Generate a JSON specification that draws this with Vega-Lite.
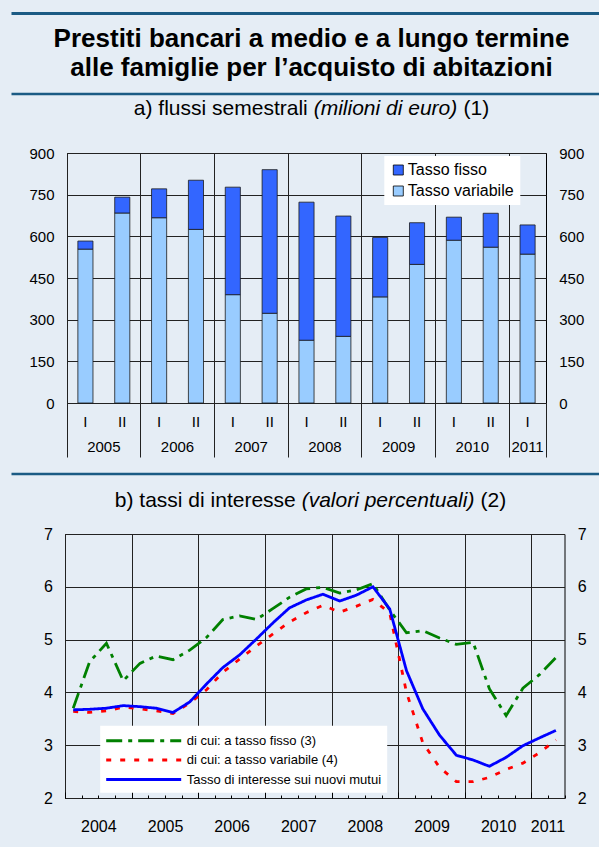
{
  "$schema": "https://vega.github.io/schema/vega-lite/v6.json",
  "background": "#e5edf5",
  "padding": {"left": 8, "top": 9, "right": 0, "bottom": 12},
  "spacing": 0,
  "columns": 1,
  "resolve": {"scale": {"color": "independent", "strokeDash": "independent", "x": "independent", "y": "independent"}, "legend": {"color": "independent", "strokeDash": "independent"}},
  "config": {
    "font": "Liberation Sans",
    "view": {"stroke": "#000", "strokeWidth": 1},
    "axis": {"labelColor": "#000", "labelFont": "Liberation Sans"},
    "legend": {"labelFont": "Liberation Sans", "labelColor": "#000", "labelLimit": 400},
    "title": {"font": "Liberation Sans", "color": "#000", "fontWeight": "normal"}
  },
  "concat": [
    {
      "width": 591, "height": 1,
      "data": {"values": [{}]},
      "mark": {"type": "point", "opacity": 0},
      "encoding": {"x": {"datum": 0, "type": "quantitative", "scale": {"domain": [0, 1]}, "axis": {"orient": "bottom", "title": null, "domain": true, "domainColor": "#1b5b84", "domainWidth": 3, "labels": false, "ticks": false, "grid": false}}},
      "view": {"stroke": null},
      "title": {"text": ["Prestiti bancari a medio e a lungo termine", "alle famiglie per l’acquisto di abitazioni"], "orient": "bottom", "anchor": "middle", "frame": "group", "baseline": "top", "offset": 10.3, "dx": 5, "fontSize": 26, "fontWeight": "bold", "lineHeight": 29.7}
    },
    {
      "width": 591, "height": 15.3,
      "data": {"values": [{}]},
      "mark": {"type": "point", "opacity": 0},
      "encoding": {"x": {"datum": 0, "type": "quantitative", "scale": {"domain": [0, 1]}, "axis": {"orient": "bottom", "offset": -3.8, "title": null, "domain": true, "domainColor": "#1b5b84", "domainWidth": 2.6, "labels": false, "ticks": false, "grid": false}}},
      "view": {"stroke": null}
    },
    {
      "spacing": 5.84,
      "hconcat": [
        {"width": 116.3, "height": 1, "data": {"values": []}, "mark": "point", "view": {"stroke": null}},
        {"width": 1, "height": 25.2, "data": {"values": []}, "mark": "point", "view": {"stroke": null},
         "title": {"text": "a) flussi semestrali", "anchor": "start", "frame": "group", "offset": 0, "fontSize": 21}},
        {"width": 1, "height": 25.2, "data": {"values": []}, "mark": "point", "view": {"stroke": null},
         "title": {"text": "(milioni di euro)", "anchor": "start", "frame": "group", "offset": 0, "fontSize": 21, "fontStyle": "italic"}},
        {"width": 1, "height": 25.2, "data": {"values": []}, "mark": "point", "view": {"stroke": null},
         "title": {"text": "(1)", "anchor": "start", "frame": "group", "offset": 0, "fontSize": 21}}
      ]
    },
    {
      "spacing": 0,
      "resolve": {"legend": {"color": "independent"}},
      "hconcat": [
        {"width": 1, "height": 1, "data": {"values": []}, "mark": "point", "view": {"stroke": null}},
        {
          "width": 479, "height": 250,
          "data": {"values": [
            {"periodo": "2005-I", "tipo": "Tasso variabile", "valore": 554}, {"periodo": "2005-I", "tipo": "Tasso fisso", "valore": 29},
            {"periodo": "2005-II", "tipo": "Tasso variabile", "valore": 684}, {"periodo": "2005-II", "tipo": "Tasso fisso", "valore": 57},
            {"periodo": "2006-I", "tipo": "Tasso variabile", "valore": 667}, {"periodo": "2006-I", "tipo": "Tasso fisso", "valore": 104},
            {"periodo": "2006-II", "tipo": "Tasso variabile", "valore": 625}, {"periodo": "2006-II", "tipo": "Tasso fisso", "valore": 177},
            {"periodo": "2007-I", "tipo": "Tasso variabile", "valore": 390}, {"periodo": "2007-I", "tipo": "Tasso fisso", "valore": 387},
            {"periodo": "2007-II", "tipo": "Tasso variabile", "valore": 323}, {"periodo": "2007-II", "tipo": "Tasso fisso", "valore": 517},
            {"periodo": "2008-I", "tipo": "Tasso variabile", "valore": 226}, {"periodo": "2008-I", "tipo": "Tasso fisso", "valore": 497},
            {"periodo": "2008-II", "tipo": "Tasso variabile", "valore": 240}, {"periodo": "2008-II", "tipo": "Tasso fisso", "valore": 433},
            {"periodo": "2009-I", "tipo": "Tasso variabile", "valore": 382}, {"periodo": "2009-I", "tipo": "Tasso fisso", "valore": 214},
            {"periodo": "2009-II", "tipo": "Tasso variabile", "valore": 499}, {"periodo": "2009-II", "tipo": "Tasso fisso", "valore": 150},
            {"periodo": "2010-I", "tipo": "Tasso variabile", "valore": 586}, {"periodo": "2010-I", "tipo": "Tasso fisso", "valore": 83},
            {"periodo": "2010-II", "tipo": "Tasso variabile", "valore": 561}, {"periodo": "2010-II", "tipo": "Tasso fisso", "valore": 122},
            {"periodo": "2011-I", "tipo": "Tasso variabile", "valore": 536}, {"periodo": "2011-I", "tipo": "Tasso fisso", "valore": 105}
          ]},
          "layer": [
            {
              "mark": {"type": "bar", "width": {"band": 0.41}, "stroke": "#1a1a1a", "strokeWidth": 0.8},
              "encoding": {
                "x": {"field": "periodo", "type": "ordinal",
                      "scale": {"domain": ["2005-I","2005-II","2006-I","2006-II","2007-I","2007-II","2008-I","2008-II","2009-I","2009-II","2010-I","2010-II","2011-I"], "paddingInner": 0, "paddingOuter": 0},
                      "axis": {"orient": "bottom", "title": null, "labelExpr": "split(datum.value, '-')[1]", "labelAngle": 0, "labelFontSize": 15, "labelPadding": -42.5, "labelOverlap": false, "ticks": true, "tickSize": 54, "tickColor": "#222", "bandPosition": 1, "tickOpacity": {"condition": {"test": "datum.value === '2011-I'", "value": 1}, "value": 0}, "grid": false, "domain": false}},
                "y": {"field": "valore", "type": "quantitative", "stack": "zero",
                      "scale": {"domain": [0, 900], "nice": false},
                      "axis": {"orient": "left", "title": null, "values": [0,150,300,450,600,750,900], "labelFontSize": 15, "labelPadding": 13, "ticks": false, "domain": false, "grid": true, "gridColor": "#222", "gridOpacity": 1, "minExtent": 54.2}},
                "color": {"field": "tipo", "type": "nominal",
                          "scale": {"domain": ["Tasso fisso", "Tasso variabile"], "range": ["#3366ff", "#99ccff"]},
                          "legend": {"title": null, "orient": "none", "legendX": 317.3, "legendY": 3, "fillColor": "#ffffff", "padding": 6, "symbolType": "square", "symbolSize": 100, "symbolStrokeColor": "#000", "symbolStrokeWidth": 0.8, "labelFontSize": 16, "labelOffset": 1.5, "rowPadding": 5}},
                "order": {"field": "tipo", "sort": "descending"}
              }
            },
            {
              "mark": {"type": "bar", "opacity": 0, "width": {"band": 0.41}},
              "encoding": {
                "x": {"field": "periodo", "type": "ordinal",
                      "scale": {"domain": ["2005-I","2005-II","2006-I","2006-II","2007-I","2007-II","2008-I","2008-II","2009-I","2009-II","2010-I","2010-II","2011-I"], "paddingInner": 0, "paddingOuter": 0},
                      "axis": {"orient": "bottom", "title": null, "values": ["2005-I","2006-I","2007-I","2008-I","2009-I","2010-I","2011-I"], "labelExpr": "slice(datum.value, 0, 4)", "labelAngle": 0, "labelFontSize": 15, "labelPadding": -17.6, "labelOverlap": false, "labelOffset": {"condition": {"test": "datum.value === '2011-I'", "value": 0}, "value": 18.42}, "ticks": true, "tickSize": 54, "tickColor": "#222", "bandPosition": 0, "grid": true, "gridColor": "#222", "gridOpacity": 1, "domain": false}},
                "y": {"field": "valore", "type": "quantitative", "stack": null,
                      "scale": {"domain": [0, 900], "nice": false},
                      "axis": {"orient": "right", "title": null, "values": [0,150,300,450,600,750,900], "labelFontSize": 15, "labelPadding": 12.7, "ticks": false, "domain": false, "grid": false}}
              }
            }
          ],
          "resolve": {"axis": {"x": "independent", "y": "independent"}}
        }
      ]
    },
    {
      "width": 591, "height": 32,
      "data": {"values": [{}]},
      "mark": {"type": "point", "opacity": 0},
      "encoding": {"x": {"datum": 0, "type": "quantitative", "scale": {"domain": [0, 1]}, "axis": {"orient": "bottom", "offset": -16.5, "title": null, "domain": true, "domainColor": "#1b5b84", "domainWidth": 2.6, "labels": false, "ticks": false, "grid": false}}},
      "view": {"stroke": null}
    },
    {
      "spacing": 5.84,
      "hconcat": [
        {"width": 97.9, "height": 1, "data": {"values": []}, "mark": "point", "view": {"stroke": null}},
        {"width": 1, "height": 13.5, "data": {"values": []}, "mark": "point", "view": {"stroke": null},
         "title": {"text": "b) tassi di interesse", "anchor": "start", "frame": "group", "offset": 0, "fontSize": 21}},
        {"width": 1, "height": 13.5, "data": {"values": []}, "mark": "point", "view": {"stroke": null},
         "title": {"text": "(valori percentuali)", "anchor": "start", "frame": "group", "offset": 0, "fontSize": 21, "fontStyle": "italic"}},
        {"width": 1, "height": 13.5, "data": {"values": []}, "mark": "point", "view": {"stroke": null},
         "title": {"text": "(2)", "anchor": "start", "frame": "group", "offset": 0, "fontSize": 21}}
      ]
    },
    {
      "spacing": 0,
      "resolve": {"legend": {"color": "independent", "strokeDash": "independent"}},
      "hconcat": [
        {"width": 1, "height": 1, "data": {"values": []}, "mark": "point", "view": {"stroke": null}},
        {
          "width": 499.5, "height": 264,
          "data": {"values": [
            {"data": "2004-02-15", "serie": "di cui: a tasso fisso (3)", "valore": 3.70},
            {"data": "2004-05-15", "serie": "di cui: a tasso fisso (3)", "valore": 4.58},
            {"data": "2004-08-15", "serie": "di cui: a tasso fisso (3)", "valore": 4.93},
            {"data": "2004-11-15", "serie": "di cui: a tasso fisso (3)", "valore": 4.22},
            {"data": "2005-02-15", "serie": "di cui: a tasso fisso (3)", "valore": 4.55},
            {"data": "2005-05-15", "serie": "di cui: a tasso fisso (3)", "valore": 4.69},
            {"data": "2005-08-15", "serie": "di cui: a tasso fisso (3)", "valore": 4.62},
            {"data": "2005-11-15", "serie": "di cui: a tasso fisso (3)", "valore": 4.80},
            {"data": "2006-02-15", "serie": "di cui: a tasso fisso (3)", "valore": 5.04},
            {"data": "2006-05-15", "serie": "di cui: a tasso fisso (3)", "valore": 5.38},
            {"data": "2006-08-15", "serie": "di cui: a tasso fisso (3)", "valore": 5.45},
            {"data": "2006-11-15", "serie": "di cui: a tasso fisso (3)", "valore": 5.38},
            {"data": "2007-02-15", "serie": "di cui: a tasso fisso (3)", "valore": 5.59},
            {"data": "2007-05-15", "serie": "di cui: a tasso fisso (3)", "valore": 5.80},
            {"data": "2007-08-15", "serie": "di cui: a tasso fisso (3)", "valore": 5.96},
            {"data": "2007-11-15", "serie": "di cui: a tasso fisso (3)", "valore": 5.99},
            {"data": "2008-02-15", "serie": "di cui: a tasso fisso (3)", "valore": 5.88},
            {"data": "2008-05-15", "serie": "di cui: a tasso fisso (3)", "valore": 5.94},
            {"data": "2008-08-15", "serie": "di cui: a tasso fisso (3)", "valore": 6.06},
            {"data": "2008-11-15", "serie": "di cui: a tasso fisso (3)", "valore": 5.56},
            {"data": "2009-02-15", "serie": "di cui: a tasso fisso (3)", "valore": 5.13},
            {"data": "2009-05-15", "serie": "di cui: a tasso fisso (3)", "valore": 5.17},
            {"data": "2009-08-15", "serie": "di cui: a tasso fisso (3)", "valore": 5.03},
            {"data": "2009-11-15", "serie": "di cui: a tasso fisso (3)", "valore": 4.91},
            {"data": "2010-02-15", "serie": "di cui: a tasso fisso (3)", "valore": 4.95},
            {"data": "2010-05-15", "serie": "di cui: a tasso fisso (3)", "valore": 4.07},
            {"data": "2010-08-15", "serie": "di cui: a tasso fisso (3)", "valore": 3.56},
            {"data": "2010-11-15", "serie": "di cui: a tasso fisso (3)", "valore": 4.08},
            {"data": "2011-02-15", "serie": "di cui: a tasso fisso (3)", "valore": 4.34},
            {"data": "2011-05-15", "serie": "di cui: a tasso fisso (3)", "valore": 4.66},
            {"data": "2004-02-15", "serie": "di cui: a tasso variabile (4)", "valore": 3.64},
            {"data": "2004-05-15", "serie": "di cui: a tasso variabile (4)", "valore": 3.62},
            {"data": "2004-08-15", "serie": "di cui: a tasso variabile (4)", "valore": 3.65},
            {"data": "2004-11-15", "serie": "di cui: a tasso variabile (4)", "valore": 3.72},
            {"data": "2005-02-15", "serie": "di cui: a tasso variabile (4)", "valore": 3.69},
            {"data": "2005-05-15", "serie": "di cui: a tasso variabile (4)", "valore": 3.65},
            {"data": "2005-08-15", "serie": "di cui: a tasso variabile (4)", "valore": 3.60},
            {"data": "2005-11-15", "serie": "di cui: a tasso variabile (4)", "valore": 3.80},
            {"data": "2006-02-15", "serie": "di cui: a tasso variabile (4)", "valore": 4.05},
            {"data": "2006-05-15", "serie": "di cui: a tasso variabile (4)", "valore": 4.38},
            {"data": "2006-08-15", "serie": "di cui: a tasso variabile (4)", "valore": 4.63},
            {"data": "2006-11-15", "serie": "di cui: a tasso variabile (4)", "valore": 4.88},
            {"data": "2007-02-15", "serie": "di cui: a tasso variabile (4)", "valore": 5.11},
            {"data": "2007-05-15", "serie": "di cui: a tasso variabile (4)", "valore": 5.33},
            {"data": "2007-08-15", "serie": "di cui: a tasso variabile (4)", "valore": 5.51},
            {"data": "2007-11-15", "serie": "di cui: a tasso variabile (4)", "valore": 5.65},
            {"data": "2008-02-15", "serie": "di cui: a tasso variabile (4)", "valore": 5.52},
            {"data": "2008-05-15", "serie": "di cui: a tasso variabile (4)", "valore": 5.63},
            {"data": "2008-08-15", "serie": "di cui: a tasso variabile (4)", "valore": 5.76},
            {"data": "2008-11-15", "serie": "di cui: a tasso variabile (4)", "valore": 5.50},
            {"data": "2009-02-15", "serie": "di cui: a tasso variabile (4)", "valore": 4.00},
            {"data": "2009-05-15", "serie": "di cui: a tasso variabile (4)", "valore": 3.05},
            {"data": "2009-08-15", "serie": "di cui: a tasso variabile (4)", "valore": 2.58},
            {"data": "2009-11-15", "serie": "di cui: a tasso variabile (4)", "valore": 2.31},
            {"data": "2010-02-15", "serie": "di cui: a tasso variabile (4)", "valore": 2.31},
            {"data": "2010-05-15", "serie": "di cui: a tasso variabile (4)", "valore": 2.39},
            {"data": "2010-08-15", "serie": "di cui: a tasso variabile (4)", "valore": 2.54},
            {"data": "2010-11-15", "serie": "di cui: a tasso variabile (4)", "valore": 2.66},
            {"data": "2011-02-15", "serie": "di cui: a tasso variabile (4)", "valore": 2.86},
            {"data": "2011-05-15", "serie": "di cui: a tasso variabile (4)", "valore": 3.10},
            {"data": "2004-02-15", "serie": "Tasso di interesse sui nuovi mutui", "valore": 3.67},
            {"data": "2004-05-15", "serie": "Tasso di interesse sui nuovi mutui", "valore": 3.68},
            {"data": "2004-08-15", "serie": "Tasso di interesse sui nuovi mutui", "valore": 3.70},
            {"data": "2004-11-15", "serie": "Tasso di interesse sui nuovi mutui", "valore": 3.75},
            {"data": "2005-02-15", "serie": "Tasso di interesse sui nuovi mutui", "valore": 3.73},
            {"data": "2005-05-15", "serie": "Tasso di interesse sui nuovi mutui", "valore": 3.70},
            {"data": "2005-08-15", "serie": "Tasso di interesse sui nuovi mutui", "valore": 3.62},
            {"data": "2005-11-15", "serie": "Tasso di interesse sui nuovi mutui", "valore": 3.82},
            {"data": "2006-02-15", "serie": "Tasso di interesse sui nuovi mutui", "valore": 4.16},
            {"data": "2006-05-15", "serie": "Tasso di interesse sui nuovi mutui", "valore": 4.47},
            {"data": "2006-08-15", "serie": "Tasso di interesse sui nuovi mutui", "valore": 4.71},
            {"data": "2006-11-15", "serie": "Tasso di interesse sui nuovi mutui", "valore": 5.01},
            {"data": "2007-02-15", "serie": "Tasso di interesse sui nuovi mutui", "valore": 5.32},
            {"data": "2007-05-15", "serie": "Tasso di interesse sui nuovi mutui", "valore": 5.60},
            {"data": "2007-08-15", "serie": "Tasso di interesse sui nuovi mutui", "valore": 5.75},
            {"data": "2007-11-15", "serie": "Tasso di interesse sui nuovi mutui", "valore": 5.86},
            {"data": "2008-02-15", "serie": "Tasso di interesse sui nuovi mutui", "valore": 5.73},
            {"data": "2008-05-15", "serie": "Tasso di interesse sui nuovi mutui", "valore": 5.84},
            {"data": "2008-08-15", "serie": "Tasso di interesse sui nuovi mutui", "valore": 6.00},
            {"data": "2008-11-15", "serie": "Tasso di interesse sui nuovi mutui", "valore": 5.58},
            {"data": "2009-02-15", "serie": "Tasso di interesse sui nuovi mutui", "valore": 4.41},
            {"data": "2009-05-15", "serie": "Tasso di interesse sui nuovi mutui", "valore": 3.69},
            {"data": "2009-08-15", "serie": "Tasso di interesse sui nuovi mutui", "valore": 3.19},
            {"data": "2009-11-15", "serie": "Tasso di interesse sui nuovi mutui", "valore": 2.81},
            {"data": "2010-02-15", "serie": "Tasso di interesse sui nuovi mutui", "valore": 2.72},
            {"data": "2010-05-15", "serie": "Tasso di interesse sui nuovi mutui", "valore": 2.60},
            {"data": "2010-08-15", "serie": "Tasso di interesse sui nuovi mutui", "valore": 2.77},
            {"data": "2010-11-15", "serie": "Tasso di interesse sui nuovi mutui", "valore": 2.99},
            {"data": "2011-02-15", "serie": "Tasso di interesse sui nuovi mutui", "valore": 3.14},
            {"data": "2011-05-15", "serie": "Tasso di interesse sui nuovi mutui", "valore": 3.28}
          ]},
          "layer": [
            {
              "mark": {"type": "line", "strokeWidth": 2.8},
              "encoding": {
                "x": {"field": "data", "type": "temporal",
                      "scale": {"domain": [{"year": 2004, "month": 1, "date": 1}, {"year": 2011, "month": 7, "date": 1}], "nice": false},
                      "axis": {"orient": "bottom", "title": null, "tickCount": {"interval": "month", "step": 3}, "ticks": true,
                               "tickSize": {"condition": {"test": "month(datum.value) === 0", "value": -6}, "value": -3},
                               "tickColor": "#000", "grid": true, "gridColor": "#222",
                               "gridOpacity": {"condition": {"test": "month(datum.value) === 0", "value": 1}, "value": 0},
                               "labelExpr": "month(datum.value) === 0 ? timeFormat(datum.value, '%Y') : ''",
                               "labelOffset": {"condition": {"test": "year(datum.value) === 2011", "value": 16}, "value": 33.3},
                               "labelPadding": 26, "labelFontSize": 16, "labelFlush": false, "labelOverlap": false, "labelBound": false, "domain": false}},
                "y": {"field": "valore", "type": "quantitative",
                      "scale": {"domain": [2, 7], "nice": false},
                      "axis": {"orient": "left", "title": null, "values": [2,3,4,5,6,7], "labelFontSize": 16, "labelPadding": 12.5, "ticks": false, "domain": false, "grid": true, "gridColor": "#222", "gridOpacity": 1, "minExtent": 52}},
                "color": {"field": "serie", "type": "nominal",
                          "scale": {"domain": ["di cui: a tasso fisso (3)", "di cui: a tasso variabile (4)", "Tasso di interesse sui nuovi mutui"], "range": ["#008000", "#ff0000", "#0000ff"]},
                          "legend": {"title": null, "orient": "none", "legendX": 35.2, "legendY": 191.7, "fillColor": "#ffffff", "padding": 6, "symbolType": "M-5,0L5,0", "symbolSize": 225, "symbolStrokeWidth": 3, "symbolOffset": 28.5, "labelOffset": 34, "labelFontSize": 13, "rowPadding": 3.4}},
                "strokeDash": {"field": "serie", "type": "nominal",
                          "scale": {"domain": ["di cui: a tasso fisso (3)", "di cui: a tasso variabile (4)", "Tasso di interesse sui nuovi mutui"], "range": [[16, 6, 4, 6], [5, 9], [1, 0]]},
                          "legend": {"title": null, "orient": "none", "legendX": 35.2, "legendY": 191.7, "fillColor": "#ffffff", "padding": 6, "symbolType": "M-5,0L5,0", "symbolSize": 225, "symbolStrokeWidth": 3, "symbolOffset": 28.5, "labelOffset": 34, "labelFontSize": 13, "rowPadding": 3.4}}
              }
            },
            {
              "mark": {"type": "point", "opacity": 0},
              "encoding": {
                "y": {"field": "valore", "type": "quantitative",
                      "axis": {"orient": "right", "title": null, "values": [2,3,4,5,6,7], "labelFontSize": 16, "labelPadding": 12.7, "ticks": false, "domain": false, "grid": false}}
              }
            }
          ],
          "resolve": {"axis": {"y": "independent"}}
        }
      ]
    }
  ]
}
